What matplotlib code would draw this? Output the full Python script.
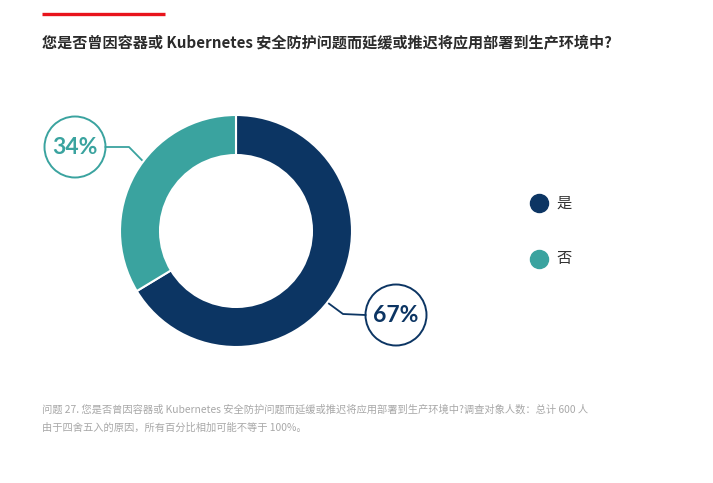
import numpy as np
import matplotlib.pyplot as plt

plt.rcParams['font.family'] = ['Noto Sans CJK SC', 'DejaVu Sans']

# data
categories = ['是', '否']
values = [67, 34]
colors = ['#0c3563', '#3aa39f']
title = '您是否曾因容器或 Kubernetes 安全防护问题而延缓或推迟将应用部署到生产环境中?'
note1 = '问题 27. 您是否曾因容器或 Kubernetes 安全防护问题而延缓或推迟将应用部署到生产环境中?调查对象人数：总计 600 人'
note2 = '由于四舍五入的原因，所有百分比相加可能不等于 100%。'

W, H = 713, 483
fig = plt.figure(figsize=(W / 100, H / 100), dpi=100)
ax = fig.add_axes([0, 0, 1, 1])

# work in pixel coords, y measured from top
def py(y):
    return H - y

cx, cy, R = 236, 231, 116
wedges, _ = ax.pie(values, colors=colors, startangle=90, counterclock=False,
                   center=(cx, py(cy)), radius=R,
                   wedgeprops=dict(width=R * 0.345, edgecolor='white', linewidth=1.5))
ax.set_xlim(0, W)
ax.set_ylim(0, H)
ax.set_aspect('equal')
ax.axis('off')

# red accent bar + title
ax.plot([42, 165], [py(14), py(14)], color='#e8141c', lw=2.4, solid_capstyle='butt')
ax.text(42, py(43), title, fontsize=10.9, fontweight='bold', color='#2b2b2b', va='center', ha='left')

# callouts: circle label + elbow connector (angle where the line leaves the ring)
callouts = [
    (0, -38, (396, 315), (343, 314)),
    (1, 143, (75, 147), (129, 147)),
]
for i, deg, (bx, by), (ex, ey) in callouts:
    ang = np.deg2rad(deg)
    sx, sy = cx + (R + 2) * np.cos(ang), py(cy) + (R + 2) * np.sin(ang)
    r = 30.5
    edge_x = bx - r if bx > cx else bx + r
    ax.plot([sx, ex, edge_x], [sy, py(ey), py(by)], color=colors[i], lw=1.3)
    ax.add_patch(plt.Circle((bx, py(by)), r, facecolor='white', edgecolor=colors[i], lw=1.4))
    ax.text(bx, py(by) - 1, f'{values[i]}%', fontsize=16.5, fontweight='bold',
            color=colors[i], ha='center', va='center', family=['Lato', 'DejaVu Sans'])

# legend
for i, lab in enumerate(categories):
    yy = 203 + i * 56
    ax.plot(539, py(yy), 'o', ms=13, color=colors[i])
    ax.text(556, py(yy), lab, fontsize=11, fontweight='medium', color='#333333', va='center', ha='left')

# footnotes
ax.text(42, py(409), note1, fontsize=7.4, color='#a8a8a8', va='center', ha='left')
ax.text(42, py(428), note2, fontsize=7.4, color='#a8a8a8', va='center', ha='left')

fig.savefig('out.png', dpi=100, facecolor='white')
